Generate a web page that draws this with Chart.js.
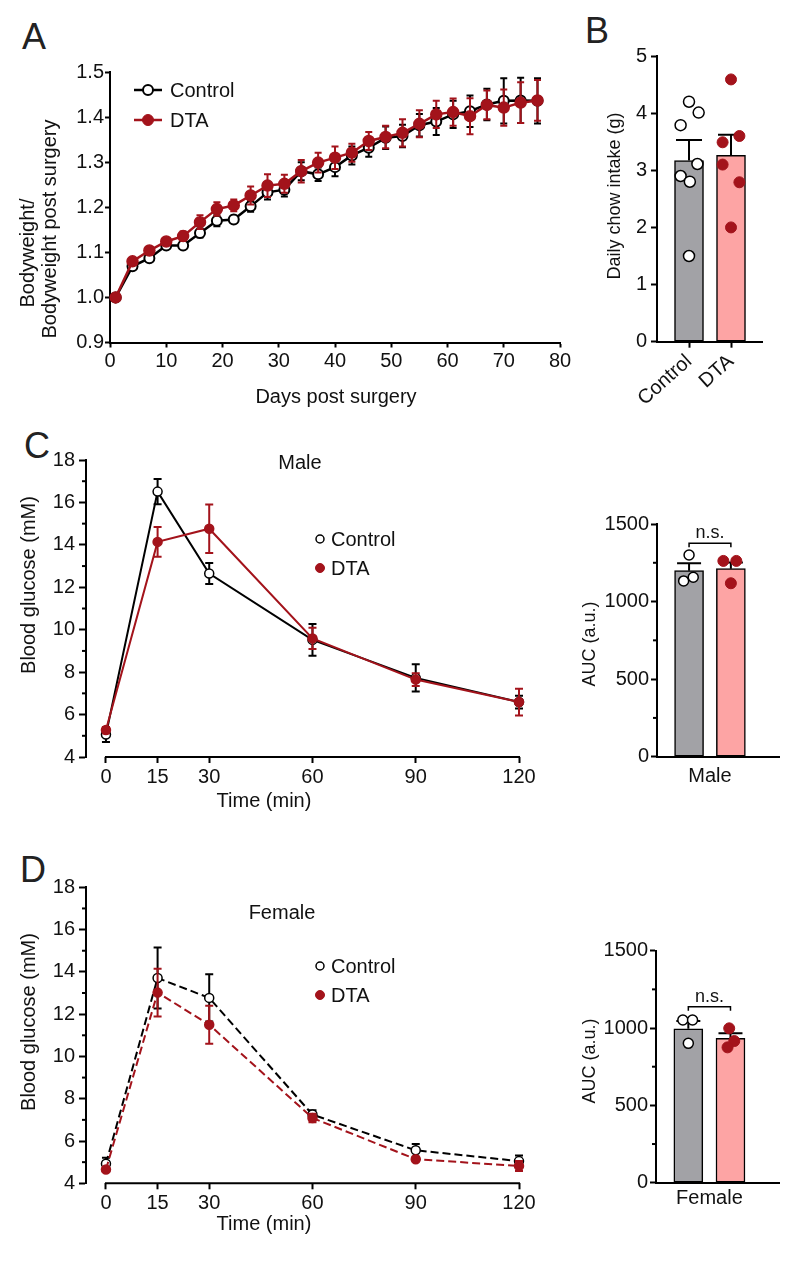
<!DOCTYPE html>
<html>
<head>
<meta charset="utf-8">
<script src="https://cdn.jsdelivr.net/npm/chart.js@4.4.0/dist/chart.umd.min.js"></script>
<style>
  body { margin: 0; background: #fff; }
  #fig { position: relative; width: 800px; height: 1262px; font-family: "Liberation Sans", Arial, Helvetica, sans-serif; }
  #fig canvas { position: absolute; }
  .panel { position: absolute; font-size: 36px; line-height: 36px; color: #222; transform: translate(-50%, -50%); }
</style>
</head>
<body>
<div id="fig">
  <div class="panel" style="left:34px;top:37px">A</div>
  <div class="panel" style="left:597px;top:31px">B</div>
  <div class="panel" style="left:37px;top:446px">C</div>
  <div class="panel" style="left:33px;top:870px">D</div>
  <canvas id="chartA" width="585" height="360" style="left:0;top:55px"></canvas>
  <canvas id="chartB" width="230" height="400" style="left:560px;top:35px"></canvas>
  <canvas id="chartC" width="545" height="380" style="left:0;top:440px"></canvas>
  <canvas id="chartCauc" width="240" height="300" style="left:560px;top:500px"></canvas>
  <canvas id="chartD" width="545" height="380" style="left:0;top:865px"></canvas>
  <canvas id="chartDauc" width="240" height="300" style="left:560px;top:925px"></canvas>
</div>
<script>
// ---- data ----
const days = [1, 4, 7, 10, 13, 16, 19, 22, 25, 28, 31, 34, 37, 40, 43, 46, 49, 52, 55, 58, 61, 64, 67, 70, 73, 76];
const bwControl = [1.00, 1.069, 1.087, 1.115, 1.115, 1.143, 1.170, 1.173, 1.202, 1.233, 1.239, 1.280, 1.273, 1.289, 1.315, 1.332, 1.354, 1.358, 1.382, 1.390, 1.406, 1.413, 1.428, 1.436, 1.437, 1.436];
const bwControlErr = [0, 0.008, 0.006, 0.006, 0.006, 0.010, 0.012, 0.008, 0.012, 0.016, 0.015, 0.020, 0.015, 0.020, 0.020, 0.020, 0.025, 0.025, 0.025, 0.030, 0.030, 0.035, 0.035, 0.050, 0.050, 0.050];
const bwDTA = [1.00, 1.080, 1.104, 1.124, 1.136, 1.167, 1.196, 1.204, 1.226, 1.248, 1.252, 1.280, 1.299, 1.310, 1.321, 1.347, 1.356, 1.365, 1.385, 1.406, 1.411, 1.402, 1.427, 1.421, 1.432, 1.437];
const bwDTAErr = [0, 0.005, 0.008, 0.005, 0.010, 0.015, 0.015, 0.013, 0.020, 0.025, 0.020, 0.025, 0.022, 0.025, 0.020, 0.020, 0.025, 0.030, 0.030, 0.030, 0.030, 0.040, 0.032, 0.040, 0.045, 0.045];

const groups = ['Control', 'DTA'];
const chowMean = [3.17, 3.26];
const chowSem = [0.36, 0.36];
const chowControl = [4.20, 4.01, 3.79, 3.11, 2.90, 2.80, 1.50];
const chowControlJitter = [0, 0.23, -0.2, 0.2, -0.2, 0.02, 0];
const chowDTA = [4.59, 3.49, 3.60, 3.10, 2.79, 2.00];
const chowDTAJitter = [0, -0.2, 0.2, -0.2, 0.2, 0];

const gttTimes = [0, 15, 30, 60, 90, 120];
const maleControl = [5.06, 16.51, 12.65, 9.52, 7.73, 6.59];
const maleControlErr = [0.35, 0.60, 0.50, 0.75, 0.64, 0.30];
const maleDTA = [5.27, 14.14, 14.76, 9.59, 7.65, 6.59];
const maleDTAErr = [0.15, 0.70, 1.14, 0.50, 0.30, 0.63];
const femaleControl = [4.93, 13.71, 12.77, 7.25, 5.56, 5.05];
const femaleControlErr = [0.28, 1.44, 1.12, 0.20, 0.30, 0.27];
const femaleDTA = [4.65, 13.02, 11.50, 7.09, 5.14, 4.82];
const femaleDTAErr = [0.10, 1.13, 0.90, 0.20, 0.10, 0.24];

const aucMaleMean = [1199, 1212];
const aucMaleSem = [48, 40];
const aucMaleControl = [1300, 1133, 1157];
const aucMaleControlJitter = [0, -0.13, 0.1];
const aucMaleDTA = [1262, 1262, 1118];
const aucMaleDTAJitter = [-0.18, 0.13, 0];
const aucFemaleMean = [995, 933];
const aucFemaleSem = [50, 33];
const aucFemaleControl = [1052, 1052, 901];
const aucFemaleControlJitter = [-0.13, 0.1, 0];
const aucFemaleDTA = [998, 916, 875];
const aucFemaleDTAJitter = [-0.03, 0.09, -0.07];

// ---- styles ----
const FONT = '"Liberation Sans", Arial, Helvetica, sans-serif';
const RED = '#a3131b';
const GREY_BAR = '#a2a2a6';
const PINK_BAR = '#fda4a4';
const INK = '#111';

Chart.defaults.font.family = FONT;
Chart.defaults.color = INK;
Chart.defaults.animation = false;
Chart.defaults.plugins.legend.display = false;
Chart.defaults.plugins.tooltip.enabled = false;

function drawErr(chart, index) {
  const ds = chart.data.datasets[index];
  if (!ds.err) return;
  const meta = chart.getDatasetMeta(index);
  const ys = chart.scales[meta.yAxisID];
  const ctx = chart.ctx;
  ctx.save();
  ctx.strokeStyle = ds.errColor;
  ctx.lineWidth = ds.errWidth || 2;
  ctx.setLineDash([]);
  meta.data.forEach((el, i) => {
    const v = ds.data[i].y, e = ds.err[i];
    if (!e) return;
    const px = el.x;
    const top = ys.getPixelForValue(v + e);
    const bot = ys.getPixelForValue(ds.errUp ? v : v - e);
    ctx.beginPath();
    ctx.moveTo(px, top); ctx.lineTo(px, bot);
    ctx.moveTo(px - ds.capHalf, top); ctx.lineTo(px + ds.capHalf, top);
    if (!ds.errUp) { ctx.moveTo(px - ds.capHalf, bot); ctx.lineTo(px + ds.capHalf, bot); }
    ctx.stroke();
  });
  ctx.restore();
}

const errorBars = {
  id: 'errorBars',
  beforeDatasetDraw(chart, args) {
    if (!chart.data.datasets[args.index].errUp) drawErr(chart, args.index);
  },
  afterDatasetDraw(chart, args) {
    if (chart.data.datasets[args.index].errUp) drawErr(chart, args.index);
  }
};

// axis lines, minor ticks, brackets, titles and legends (positions in page px)
const figure = {
  id: 'figure',
  afterDraw(chart, args, o) {
    const ctx = chart.ctx;
    const ox = chart.canvas.offsetLeft, oy = chart.canvas.offsetTop;
    const xs = chart.scales.x, ys = chart.scales.y, area = chart.chartArea;
    ctx.save();
    ctx.strokeStyle = '#000';
    ctx.lineWidth = 2;
    if (o.axisLine) {
      ctx.beginPath();
      ctx.moveTo(xs.getPixelForValue(o.axisLine[0]) - 1, area.bottom);
      ctx.lineTo(xs.getPixelForValue(o.axisLine[1]) + 1, area.bottom);
      ctx.stroke();
    }
    if (o.minorY) {
      for (let v = ys.min + o.minorY; v < ys.max; v += 2 * o.minorY) {
        const py = ys.getPixelForValue(v);
        ctx.beginPath();
        ctx.moveTo(area.left - o.minorLen, py);
        ctx.lineTo(area.left, py);
        ctx.stroke();
      }
    }
    if (o.bracket) {
      const b = o.bracket;
      const x1 = xs.getPixelForValue(b.from), x2 = xs.getPixelForValue(b.to), py = ys.getPixelForValue(b.y);
      ctx.lineWidth = 1.5;
      ctx.beginPath();
      ctx.moveTo(x1, py + 4); ctx.lineTo(x1, py); ctx.lineTo(x2, py); ctx.lineTo(x2, py + 4);
      ctx.stroke();
      ctx.fillStyle = INK;
      ctx.font = '18px ' + FONT;
      ctx.textAlign = 'center';
      ctx.textBaseline = 'alphabetic';
      ctx.fillText(b.text, (x1 + x2) / 2, py - 5);
    }
    (o.texts || []).forEach(t => {
      ctx.save();
      ctx.fillStyle = INK;
      ctx.font = (t.size || 20) + 'px ' + FONT;
      ctx.textAlign = 'center';
      ctx.textBaseline = 'middle';
      ctx.translate(t.x - ox, t.y - oy);
      if (t.rot) ctx.rotate(-Math.PI / 2);
      ctx.fillText(t.text, 0, 0);
      ctx.restore();
    });
    if (o.legend) {
      const L = o.legend;
      L.items.forEach((it, i) => {
        const cx = L.x - ox, cy = L.y - oy + i * L.dy;
        if (it.line) {
          ctx.strokeStyle = it.line;
          ctx.lineWidth = 2.5;
          ctx.beginPath(); ctx.moveTo(cx - 14, cy); ctx.lineTo(cx + 14, cy); ctx.stroke();
        }
        ctx.beginPath();
        ctx.arc(cx, cy, it.r, 0, Math.PI * 2);
        ctx.fillStyle = it.fill;
        ctx.fill();
        ctx.strokeStyle = it.stroke;
        ctx.lineWidth = it.bw;
        ctx.stroke();
        ctx.fillStyle = INK;
        ctx.font = '20px ' + FONT;
        ctx.textAlign = 'left';
        ctx.textBaseline = 'middle';
        ctx.fillText(it.label, L.textX - ox, cy + 1);
      });
    }
    ctx.restore();
  }
};

function axis(o) {
  return {
    type: 'linear',
    min: o.min, max: o.max,
    offset: false,
    border: { display: o.border !== false, color: '#000', width: 2 },
    grid: { display: true, offset: false, drawOnChartArea: false, drawTicks: o.tickLength > 0, tickLength: o.tickLength || 0, tickWidth: 2, tickColor: '#000' },
    ticks: {
      color: INK, font: { size: o.size || 20 }, padding: o.padding, autoSkip: false,
      stepSize: o.step, minRotation: o.rotation || 0, maxRotation: o.rotation || 0,
      callback: o.callback
    },
    afterBuildTicks: o.tickValues ? (s) => { s.ticks = o.tickValues.map(v => ({ value: v })); } : undefined,
    afterFit: (s) => { if (o.width) s.width = o.width; if (o.height) s.height = o.height; }
  };
}

function lineSet(label, xs, ys, err, color, filled, extra) {
  return Object.assign({
    label,
    data: xs.map((x, i) => ({ x, y: ys[i] })),
    err, errColor: color, errWidth: 2,
    borderColor: color,
    pointBackgroundColor: filled ? color : '#fff',
    pointBorderColor: color,
    clip: false
  }, extra);
}

// ---- A: body weight ----
new Chart(document.getElementById('chartA'), {
  type: 'line',
  data: {
    datasets: [
      lineSet('DTA', days, bwDTA, bwDTAErr, RED, true, { borderWidth: 2.5, pointRadius: 5.5, pointBorderWidth: 1.5, capHalf: 3.5 }),
      lineSet('Control', days, bwControl, bwControlErr, '#000', false, { borderWidth: 2.5, pointRadius: 5, pointBorderWidth: 2, capHalf: 3.5 })
    ]
  },
  options: {
    responsive: false,
    layout: { padding: { top: 17, right: 25, left: 0, bottom: 0 } },
    scales: {
      x: axis({ min: 0, max: 80, step: 10, tickLength: 5, padding: 2, height: 72.5 }),
      y: axis({ min: 0.9, max: 1.5, step: 0.1, tickLength: 5, padding: 1, width: 110, callback: v => v.toFixed(1) })
    },
    plugins: {
      figure: {
        texts: [
          { text: 'Days post surgery', x: 336, y: 397 },
          { text: 'Bodyweight/', x: 28, y: 253, rot: true },
          { text: 'Bodyweight post surgery', x: 50, y: 229, rot: true }
        ],
        legend: {
          x: 148, y: 90, dy: 30, textX: 170,
          items: [
            { label: 'Control', line: '#000', fill: '#fff', stroke: '#000', r: 5, bw: 2 },
            { label: 'DTA', line: RED, fill: RED, stroke: RED, r: 5.5, bw: 1 }
          ]
        }
      }
    }
  },
  plugins: [errorBars, figure]
});

// ---- B: daily chow intake ----
new Chart(document.getElementById('chartB'), {
  type: 'bar',
  data: {
    datasets: [
      { type: 'scatter', data: chowControl.map((v, i) => ({ x: 1 + chowControlJitter[i], y: v })), pointRadius: 5.5, pointBackgroundColor: '#fff', pointBorderColor: '#000', pointBorderWidth: 1.5, clip: false },
      { type: 'scatter', data: chowDTA.map((v, i) => ({ x: 2 + chowDTAJitter[i], y: v })), pointRadius: 5.5, pointBackgroundColor: RED, pointBorderColor: RED, pointBorderWidth: 1, clip: false },
      { type: 'bar', data: chowMean.map((v, i) => ({ x: i + 1, y: v })), err: chowSem, errUp: true, errColor: '#000', errWidth: 2, capHalf: 13,
        backgroundColor: [GREY_BAR, PINK_BAR], borderColor: '#000', borderWidth: 1.5, borderSkipped: false, barThickness: 29 }
    ]
  },
  options: {
    responsive: false,
    layout: { padding: { top: 21, right: 28, left: 0, bottom: 0 } },
    scales: {
      x: axis({ min: 0.238, max: 2.738, tickLength: 6, padding: 2, height: 93.3, rotation: 42, tickValues: [1, 2], callback: v => groups[v - 1] }),
      y: axis({ min: 0, max: 5, step: 1, tickLength: 6, padding: 4, width: 97 })
    },
    plugins: {
      figure: { texts: [{ text: 'Daily chow intake (g)', x: 615, y: 196, rot: true, size: 18 }] }
    }
  },
  plugins: [errorBars, figure]
});

// ---- C/D: glucose tolerance curves ----
function gttChart(id, control, controlErr, dta, dtaErr, dash, figOpts, padTop, xHeight) {
  const extra = { borderWidth: 2, pointRadius: 4.5, pointBorderWidth: 1.5, capHalf: 4, borderDash: dash };
  new Chart(document.getElementById(id), {
    type: 'line',
    data: {
      datasets: [
        lineSet('DTA', gttTimes, dta, dtaErr, RED, true, extra),
        lineSet('Control', gttTimes, control, controlErr, '#000', false, extra)
      ]
    },
    options: {
      responsive: false,
      layout: { padding: { top: padTop, right: 26, left: 0, bottom: 0 } },
      scales: {
        x: axis({ min: -5.8, max: 120, border: false, tickLength: 6, padding: 2, height: xHeight, tickValues: gttTimes }),
        y: axis({ min: 4, max: 18, step: 2, tickLength: 7, padding: 4, width: 86 })
      },
      plugins: { figure: Object.assign({ axisLine: [0, 120], minorY: 1, minorLen: 4 }, figOpts) }
    },
    plugins: [errorBars, figure]
  });
}

const gttLegend = (y) => ({
  x: 320, y, dy: 29, textX: 331,
  items: [
    { label: 'Control', fill: '#fff', stroke: '#000', r: 4, bw: 1.5 },
    { label: 'DTA', fill: RED, stroke: RED, r: 4.5, bw: 1 }
  ]
});

gttChart('chartC', maleControl, maleControlErr, maleDTA, maleDTAErr, [], {
  texts: [
    { text: 'Male', x: 300, y: 463 },
    { text: 'Time (min)', x: 264, y: 801 },
    { text: 'Blood glucose (mM)', x: 29, y: 585, rot: true }
  ],
  legend: gttLegend(539)
}, 20, 63);

gttChart('chartD', femaleControl, femaleControlErr, femaleDTA, femaleDTAErr, [8, 4], {
  texts: [
    { text: 'Female', x: 282, y: 913 },
    { text: 'Time (min)', x: 264, y: 1224 },
    { text: 'Blood glucose (mM)', x: 29, y: 1022, rot: true }
  ],
  legend: gttLegend(966)
}, 22.3, 61.7);

// ---- C/D: AUC bars ----
function aucChart(id, mean, sem, control, controlJit, dta, dtaJit, sex, sigY, padTop, yWidth, xHeight, labelPad, titleY) {
  new Chart(document.getElementById(id), {
    type: 'bar',
    data: {
      datasets: [
        { type: 'scatter', data: control.map((v, i) => ({ x: 1 + controlJit[i], y: v })), pointRadius: 5, pointBackgroundColor: '#fff', pointBorderColor: '#000', pointBorderWidth: 1.5, clip: false },
        { type: 'scatter', data: dta.map((v, i) => ({ x: 2 + dtaJit[i], y: v })), pointRadius: 5.5, pointBackgroundColor: RED, pointBorderColor: RED, pointBorderWidth: 1, clip: false },
        { type: 'bar', data: mean.map((v, i) => ({ x: i + 1, y: v })), err: sem, errUp: true, errColor: '#000', errWidth: 2, capHalf: 12,
          backgroundColor: [GREY_BAR, PINK_BAR], borderColor: '#000', borderWidth: 1.5, borderSkipped: false, barThickness: 29 }
      ]
    },
    options: {
      responsive: false,
      layout: { padding: { top: padTop, right: 21, left: 0, bottom: 0 } },
      scales: {
        x: axis({ min: 0.233, max: 3.151, tickLength: 0, padding: labelPad, height: xHeight, tickValues: [1.5], callback: () => sex }),
        y: axis({ min: 0, max: 1500, step: 500, tickLength: 6, padding: 2, width: yWidth })
      },
      plugins: {
        figure: {
          minorY: 250, minorLen: 4,
          bracket: { from: 1, to: 2, y: sigY, text: 'n.s.' },
          texts: [{ text: 'AUC (a.u.)', x: 590, y: titleY, rot: true, size: 18 }]
        }
      }
    },
    plugins: [errorBars, figure]
  });
}

aucChart('chartCauc', aucMaleMean, aucMaleSem, aucMaleControl, aucMaleControlJitter, aucMaleDTA, aucMaleDTAJitter, 'Male', 1376, 24, 97, 43.3, 8, 644);
aucChart('chartDauc', aucFemaleMean, aucFemaleSem, aucFemaleControl, aucFemaleControlJitter, aucFemaleDTA, aucFemaleDTAJitter, 'Female', 1138, 25.7, 96, 42.3, 4, 1061);
</script>
</body>
</html>
